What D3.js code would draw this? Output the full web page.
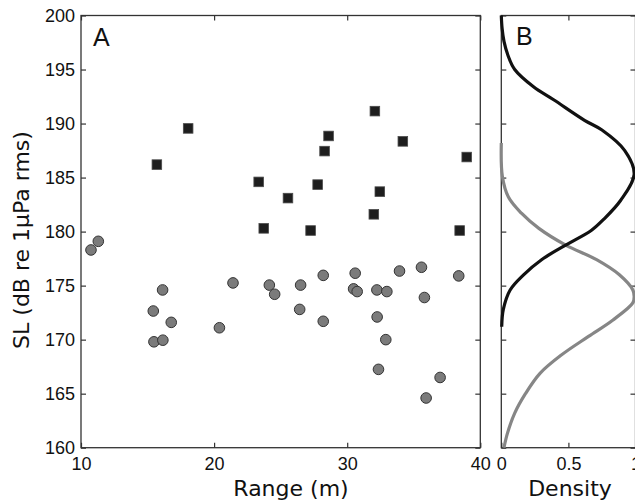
<!DOCTYPE html>
<html lang="en">
<head>
    <meta charset="UTF-8">
    <title>Source level vs range</title>
    <script src="https://d3js.org/d3.v7.min.js"></script>
    <style>
        body {
            margin: 0;
            background-color: #ffffff;
        }
        .tick text {
            font-family: 'Liberation Sans', Arial, sans-serif;
            font-size: 18px;
            fill: #111;
        }
        .tick line {
            stroke: #333;
            stroke-width: 1.2px;
        }
        .frame {
            fill: none;
            stroke: #333;
            stroke-width: 1.3px;
        }
        .axis-title {
            font-family: 'DejaVu Sans', sans-serif;
            font-size: 22px;
            fill: #111;
        }
        .panel-label {
            font-family: 'Liberation Sans', Arial, sans-serif;
            font-size: 25px;
            fill: #111;
        }
        .curve {
            fill: none;
            stroke-width: 3.2px;
        }
    </style>
</head>
<body>
    <div id="chart"></div>
    <script>
        // squares (high SL group)
        const squareRange = [15.7, 18.05, 23.35, 25.55, 23.73, 27.25, 27.78, 28.6, 28.3, 32.08, 34.18, 32.45, 32.0, 38.45, 38.98];
        const squareSL = [186.2, 189.55, 184.6, 183.1, 180.3, 180.1, 184.35, 188.85, 187.45, 191.15, 188.35, 183.7, 181.6, 180.1, 186.9];

        // circles (low SL group)
        const circleRange = [10.75, 11.3, 15.43, 16.13, 15.48, 16.15, 16.78, 20.4, 21.42, 24.15, 24.55, 26.5, 26.43,
            28.2, 28.2, 30.6, 30.48, 30.75, 32.23, 32.98, 32.25, 32.9, 32.35, 33.93, 35.58, 35.8, 38.38, 36.98, 35.93];
        const circleSL = [178.3, 179.1, 172.65, 174.6, 169.8, 169.95, 171.6, 171.1, 175.25, 175.05, 174.2, 175.05, 172.8,
            175.95, 171.7, 176.15, 174.7, 174.45, 174.6, 174.45, 172.1, 170.0, 167.25, 176.35, 176.7, 173.9, 175.9, 166.5, 164.6];

        // density curves (panel B)
        const blackSL = [200, 198.8, 197.6, 196.3, 195.0, 193.4, 192.2, 190.3, 189.4, 187.5, 185.3, 182.9, 181.1, 180.1, 178.75, 177.4, 176.0, 174.6, 172.8, 171.2];
        const blackDensity = [0.0, 0.006, 0.02, 0.05, 0.1, 0.24, 0.39, 0.62, 0.75, 0.92, 0.99, 0.89, 0.76, 0.67, 0.48, 0.30, 0.166, 0.066, 0.015, 0.003];
        const graySL = [188.2, 185.1, 183.2, 181.7, 180.3, 178.75, 177.4, 176.0, 174.6, 174.0, 173.4, 171.8, 170.3, 168.6, 166.9, 165.0, 163.2, 161.3, 160.0];
        const grayDensity = [0.0, 0.008, 0.053, 0.15, 0.28, 0.48, 0.71, 0.88, 0.98, 0.99, 0.98, 0.83, 0.65, 0.45, 0.29, 0.18, 0.10, 0.045, 0.02];

        const slTicks = [160, 165, 170, 175, 180, 185, 190, 195, 200];
        const rangeTicks = [10, 20, 30, 40];
        const densityTicks = [0, 0.5, 1];

        const width = 635, height = 501;
        const plotTop = 15.5, plotBottom = 447.7;

        const svg = d3.select("#chart")
            .append("svg")
            .attr("width", width)
            .attr("height", height)
            .style("display", "block");

        const yScale = d3.scaleLinear().domain([160, 200]).range([plotBottom, plotTop]);
        const xA = d3.scaleLinear().domain([10, 40]).range([81, 480.3]);
        const xB = d3.scaleLinear().domain([0, 1]).range([501.3, 635.5]);

        function drawAxes(x, xTicks, xFormat, yLabels) {
            const g = svg.append("g");
            const [x0, x1] = x.range();
            g.append("g")
                .attr("transform", `translate(0,${plotBottom})`)
                .call(d3.axisBottom(x).tickValues(xTicks).tickSize(-5).tickPadding(10).tickFormat(xFormat))
                .call(a => a.select(".domain").remove());
            g.append("g")
                .attr("transform", `translate(0,${plotTop})`)
                .call(d3.axisTop(x).tickValues(xTicks).tickSize(-5).tickFormat(""))
                .call(a => a.select(".domain").remove());
            g.append("g")
                .attr("transform", `translate(${x0},0)`)
                .call(d3.axisLeft(yScale).tickValues(slTicks).tickSize(-5).tickPadding(6)
                    .tickFormat(yLabels ? d3.format("d") : ""))
                .call(a => a.select(".domain").remove());
            g.append("g")
                .attr("transform", `translate(${x1},0)`)
                .call(d3.axisRight(yScale).tickValues(slTicks).tickSize(-5).tickFormat(""))
                .call(a => a.select(".domain").remove());
            g.append("rect")
                .attr("class", "frame")
                .attr("x", x0)
                .attr("y", plotTop)
                .attr("width", x1 - x0)
                .attr("height", plotBottom - plotTop);
        }

        drawAxes(xA, rangeTicks, d3.format("d"), true);
        drawAxes(xB, densityTicks, d => d === 0.5 ? "0.5" : d3.format("d")(d), false);

        // Panel A markers
        const sq = 9.6;
        svg.append("g").selectAll("rect")
            .data(d3.range(squareRange.length))
            .enter().append("rect")
            .attr("x", i => xA(squareRange[i]) - sq / 2)
            .attr("y", i => yScale(squareSL[i]) - sq / 2)
            .attr("width", sq)
            .attr("height", sq)
            .attr("fill", "#1e1e1e")
            .attr("stroke", "#4a4a4a")
            .attr("stroke-width", 0.8);

        svg.append("g").selectAll("circle")
            .data(d3.range(circleRange.length))
            .enter().append("circle")
            .attr("cx", i => xA(circleRange[i]))
            .attr("cy", i => yScale(circleSL[i]))
            .attr("r", 5.3)
            .attr("fill", "#7b7b7b")
            .attr("stroke", "#333")
            .attr("stroke-width", 1);

        // Panel B curves
        const line = d3.line()
            .x(d => xB(d[1]))
            .y(d => yScale(d[0]))
            .curve(d3.curveCatmullRom.alpha(0.5));

        svg.append("path")
            .datum(d3.zip(graySL, grayDensity))
            .attr("class", "curve")
            .attr("stroke", "#868686")
            .attr("d", line);

        svg.append("path")
            .datum(d3.zip(blackSL, blackDensity))
            .attr("class", "curve")
            .attr("stroke", "#111")
            .attr("d", line);

        // labels
        svg.append("text").attr("class", "panel-label").attr("x", 93).attr("y", 45.5).text("A");
        svg.append("text").attr("class", "panel-label").attr("x", 516).attr("y", 44.5).text("B");

        svg.append("text")
            .attr("class", "axis-title")
            .attr("x", 291)
            .attr("y", 496)
            .style("text-anchor", "middle")
            .text("Range (m)");

        svg.append("text")
            .attr("class", "axis-title")
            .attr("x", 570)
            .attr("y", 496)
            .style("text-anchor", "middle")
            .text("Density");

        svg.append("text")
            .attr("class", "axis-title")
            .attr("transform", "translate(29,240) rotate(-90)")
            .style("text-anchor", "middle")
            .text("SL (dB re 1μPa rms)");
    </script>
</body>
</html>
